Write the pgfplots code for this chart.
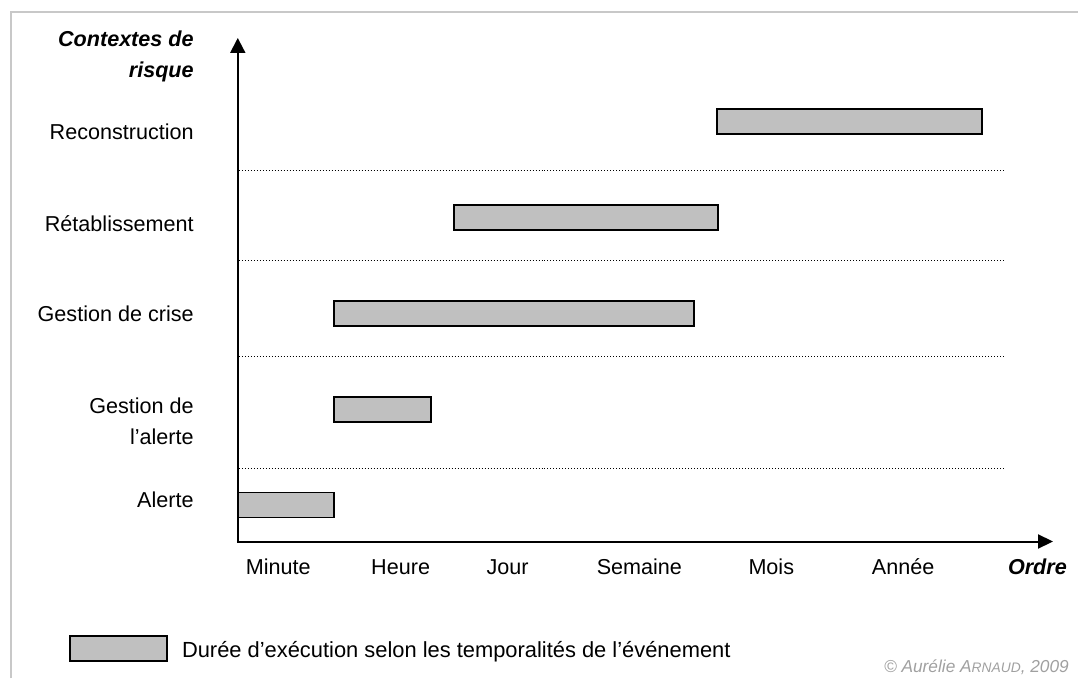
\documentclass[border=0pt]{standalone}
\usepackage{pgfplots}
\pgfplotsset{compat=1.18}
\usepackage{fontspec}
\setmainfont{Liberation Sans}
\usetikzlibrary{arrows.meta}
\definecolor{barfill}{HTML}{C0C0C0}
\definecolor{framecol}{HTML}{C8C8C8}
\definecolor{copycol}{HTML}{A0A0A0}
\tikzset{lbl/.style={inner sep=0pt, font=\fontsize{21.6}{26}\selectfont},
         blbl/.style={inner sep=0pt, font=\fontsize{21.6}{26}\selectfont\bfseries\itshape}}
\begin{document}
\begin{tikzpicture}
\begin{axis}[
  width=1079pt, height=679pt, scale only axis,
  xmin=0, xmax=1079, ymin=0, ymax=679, y dir=reverse,
  hide axis, clip=false, no markers,
]
\path (axis cs:0,0) rectangle (axis cs:1079,679);
% outer frame
\draw[framecol, line width=2pt] (axis cs:11,679) -- (axis cs:11,12) -- (axis cs:1079,12);
% dotted separators
\foreach \yy in {170.3,260.3,356.5,468.5}{
  \edef\tmp{\noexpand\draw[black, line width=1pt, dash pattern=on 1pt off 2pt] (axis cs:239,\yy) -- (axis cs:1005,\yy);}
  \tmp
}
% bars (start, end of each duration; row top and bottom)
\addplot[fill=barfill, draw=black, line width=1.9pt] coordinates {(238,493) (334.5,493) (334.5,518) (238,518)} -- cycle;      % Alerte
\addplot[fill=barfill, draw=black, line width=1.9pt] coordinates {(334,397) (431,397) (431,422) (334,422)} -- cycle;          % Gestion de l'alerte
\addplot[fill=barfill, draw=black, line width=1.9pt] coordinates {(334,301.5) (695,301.5) (695,326) (334,326)} -- cycle;      % Gestion de crise
\addplot[fill=barfill, draw=black, line width=1.9pt] coordinates {(454,205) (719,205) (719,230) (454,230)} -- cycle;          % Retablissement
\addplot[fill=barfill, draw=black, line width=1.9pt] coordinates {(718,109.5) (983,109.5) (983,134) (718,134)} -- cycle;      % Reconstruction
% axes with arrows
\draw[black, line width=2pt, -{Triangle[length=15pt,width=15pt]}] (axis cs:238,542) -- (axis cs:238,38);
\draw[black, line width=2pt, -{Triangle[length=15pt,width=14pt]}] (axis cs:237,542) -- (axis cs:1054,542);
% y labels
\node[blbl, anchor=base east] at (axis cs:194,47) {Contextes de};
\node[blbl, anchor=base east] at (axis cs:194,78) {risque};
\node[lbl, anchor=base east] at (axis cs:194,140) {Reconstruction};
\node[lbl, anchor=base east] at (axis cs:194,232) {Rétablissement};
\node[lbl, anchor=base east] at (axis cs:194,322) {Gestion de crise};
\node[lbl, anchor=base east] at (axis cs:194,414) {Gestion de};
\node[lbl, anchor=base east] at (axis cs:194,445) {l’alerte};
\node[lbl, anchor=base east] at (axis cs:194,508) {Alerte};
% x labels
\node[lbl, anchor=base] at (axis cs:278.5,575) {Minute};
\node[lbl, anchor=base] at (axis cs:401,575) {Heure};
\node[lbl, anchor=base] at (axis cs:508,575) {Jour};
\node[lbl, anchor=base] at (axis cs:640,575) {Semaine};
\node[lbl, anchor=base] at (axis cs:772,575) {Mois};
\node[lbl, anchor=base] at (axis cs:904,575) {Année};
\node[blbl, anchor=base east] at (axis cs:1068,575) {Ordre};
% legend
\draw[fill=barfill, draw=black, line width=1.9pt] (axis cs:70,637) rectangle (axis cs:167,662);
\node[anchor=base west, inner sep=0pt, font=\fontsize{21.9}{26}\selectfont] at (axis cs:182,658) {Durée d’exécution selon les temporalités de l’événement};
% copyright
\node[anchor=base east, inner sep=0pt, text=copycol, font=\fontsize{17.3}{20}\selectfont\itshape] at (axis cs:1070,673) {© Aurélie A{\fontsize{13.8}{16}\selectfont RNAUD}, 2009};
\end{axis}
\end{tikzpicture}
\end{document}
